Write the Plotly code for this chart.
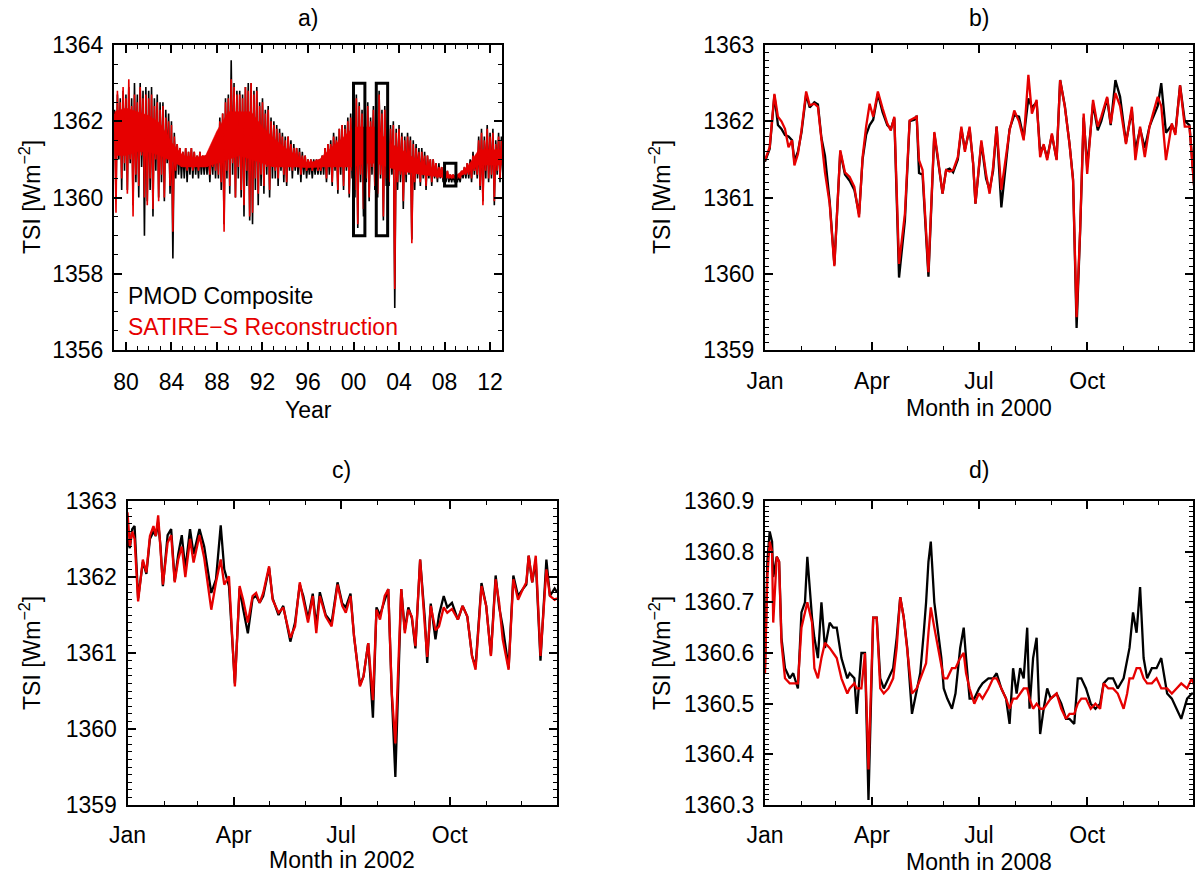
import numpy as np
import plotly.graph_objects as go

# ---- panel a: daily TSI summarised as alternating high/low samples every 1/8 year from 1979.0
a_start = 1979.0
a_step = 0.125
pmod_a = [
    1362.3, 1360.0, 1362.7, 1361.0, 1362.6, 1360.2, 1362.8, 1360.7,  # 1979
    1362.7, 1360.2, 1362.9, 1360.9, 1362.6, 1359.8, 1363.0, 1360.4,  # 1980
    1362.7, 1360.0, 1363.0, 1360.8, 1362.8, 1359.0, 1362.9, 1359.9,  # 1981
    1362.8, 1360.2, 1362.9, 1359.5, 1362.6, 1360.7, 1362.7, 1360.0,  # 1982
    1362.5, 1360.4, 1362.5, 1359.9, 1362.3, 1360.9, 1362.2, 1360.1,  # 1983
    1362.0, 1358.4, 1361.7, 1360.5, 1361.4, 1360.6, 1361.3, 1360.5,  # 1984
    1361.2, 1360.5, 1361.3, 1360.4, 1361.2, 1360.6, 1361.3, 1360.5,  # 1985
    1361.2, 1360.6, 1361.1, 1360.5, 1361.2, 1360.6, 1361.1, 1360.6,  # 1986
    1361.1, 1360.6, 1361.2, 1360.4, 1361.3, 1360.6, 1361.5, 1360.5,  # 1987
    1361.7, 1360.5, 1362.1, 1360.2, 1362.2, 1359.3, 1362.6, 1360.5,  # 1988
    1362.7, 1360.1, 1363.6, 1360.6, 1363.0, 1360.0, 1362.8, 1360.5,  # 1989
    1362.8, 1360.0, 1362.7, 1359.5, 1362.9, 1360.3, 1363.0, 1359.4,  # 1990
    1363.0, 1359.3, 1362.8, 1360.2, 1362.9, 1359.8, 1362.5, 1360.3,  # 1991
    1362.6, 1360.1, 1362.3, 1360.6, 1362.4, 1360.0, 1362.1, 1360.5,  # 1992
    1362.0, 1360.5, 1361.9, 1360.3, 1361.8, 1360.7, 1361.7, 1360.4,  # 1993
    1361.6, 1360.3, 1361.6, 1360.7, 1361.5, 1360.5, 1361.4, 1360.7,  # 1994
    1361.3, 1360.6, 1361.3, 1360.4, 1361.2, 1360.6, 1361.1, 1360.5,  # 1995
    1361.0, 1360.6, 1361.0, 1360.5, 1361.0, 1360.6, 1361.0, 1360.6,  # 1996
    1361.0, 1360.6, 1361.1, 1360.6, 1361.3, 1360.4, 1361.4, 1360.6,  # 1997
    1361.5, 1360.3, 1361.7, 1360.7, 1361.6, 1360.1, 1361.8, 1360.6,  # 1998
    1361.9, 1360.2, 1361.9, 1360.7, 1362.1, 1360.0, 1362.2, 1360.5,  # 1999
    1362.1, 1360.0, 1362.7, 1359.2, 1362.5, 1360.4, 1362.3, 1359.5,  # 2000
    1362.3, 1360.4, 1362.5, 1359.9, 1362.1, 1360.6, 1362.4, 1360.2,  # 2001
    1362.5, 1360.0, 1362.8, 1360.5, 1362.3, 1359.4, 1362.4, 1360.3,  # 2002
    1362.1, 1360.3, 1361.9, 1360.6, 1362.0, 1357.1, 1361.8, 1360.2,  # 2003
    1361.9, 1360.4, 1361.7, 1359.7, 1361.6, 1360.4, 1361.7, 1360.6,  # 2004
    1361.6, 1358.9, 1361.5, 1360.2, 1361.4, 1360.5, 1361.3, 1360.3,  # 2005
    1361.3, 1360.5, 1361.2, 1360.2, 1361.1, 1360.5, 1361.0, 1360.3,  # 2006
    1361.0, 1360.5, 1360.9, 1360.4, 1360.9, 1360.5, 1360.8, 1360.4,  # 2007
    1360.7, 1360.4, 1360.7, 1360.4, 1360.6, 1360.4, 1360.6, 1360.4,  # 2008
    1360.6, 1360.4, 1360.6, 1360.4, 1360.7, 1360.5, 1360.8, 1360.5,  # 2009
    1360.9, 1360.5, 1361.0, 1360.4, 1361.2, 1360.6, 1361.1, 1360.5,  # 2010
    1361.6, 1360.2, 1361.8, 1359.9, 1361.6, 1360.5, 1361.9, 1360.4,  # 2011
    1361.7, 1360.5, 1361.8, 1359.8, 1361.5, 1360.6, 1361.7, 1360.4,  # 2012
    1361.6, 1360.6,                                                  # 2013
]
satire_a = [
    1362.2, 1359.6, 1362.8, 1361.2, 1362.5, 1360.5, 1362.9, 1360.9,  # 1979
    1362.6, 1360.1, 1363.1, 1361.0, 1362.4, 1359.5, 1362.7, 1360.6,  # 1980
    1362.5, 1360.3, 1362.9, 1361.1, 1362.6, 1360.0, 1362.7, 1359.8,  # 1981
    1362.6, 1360.5, 1362.7, 1359.7, 1362.4, 1361.0, 1362.5, 1359.9,  # 1982
    1362.3, 1360.6, 1362.4, 1360.0, 1362.1, 1361.1, 1362.0, 1360.3,  # 1983
    1361.9, 1359.1, 1361.6, 1360.7, 1361.4, 1360.9, 1361.3, 1360.8,  # 1984
    1361.2, 1360.8, 1361.3, 1360.7, 1361.2, 1360.8, 1361.3, 1360.7,  # 1985
    1361.2, 1360.8, 1361.1, 1360.7, 1361.2, 1360.8, 1361.1, 1360.8,  # 1986
    1361.1, 1360.8, 1361.2, 1360.6, 1361.3, 1360.8, 1361.5, 1360.7,  # 1987
    1361.7, 1360.6, 1362.0, 1360.4, 1362.2, 1359.1, 1362.5, 1360.7,  # 1988
    1362.6, 1360.3, 1363.1, 1360.9, 1362.9, 1360.0, 1362.7, 1360.8,  # 1989
    1362.7, 1360.2, 1362.6, 1359.8, 1362.9, 1360.7, 1362.8, 1359.5,  # 1990
    1363.0, 1359.6, 1362.7, 1360.5, 1362.8, 1360.1, 1362.4, 1360.6,  # 1991
    1362.5, 1360.3, 1362.2, 1360.8, 1362.3, 1360.2, 1362.0, 1360.8,  # 1992
    1361.9, 1360.7, 1361.8, 1360.5, 1361.7, 1360.9, 1361.6, 1360.6,  # 1993
    1361.5, 1360.4, 1361.6, 1360.9, 1361.4, 1360.7, 1361.3, 1360.9,  # 1994
    1361.3, 1360.8, 1361.2, 1360.6, 1361.1, 1360.8, 1361.1, 1360.7,  # 1995
    1361.0, 1360.8, 1361.0, 1360.7, 1360.9, 1360.8, 1361.0, 1360.7,  # 1996
    1361.0, 1360.7, 1361.1, 1360.8, 1361.3, 1360.5, 1361.4, 1360.8,  # 1997
    1361.4, 1360.4, 1361.6, 1360.9, 1361.5, 1360.2, 1361.8, 1360.8,  # 1998
    1361.9, 1360.3, 1361.8, 1360.9, 1362.0, 1360.1, 1362.1, 1360.7,  # 1999
    1362.0, 1360.2, 1362.6, 1359.3, 1362.4, 1360.6, 1362.2, 1359.7,  # 2000
    1362.2, 1360.5, 1362.4, 1360.0, 1362.0, 1360.8, 1362.3, 1360.3,  # 2001
    1362.4, 1360.1, 1362.7, 1360.6, 1362.2, 1359.5, 1362.3, 1360.5,  # 2002
    1362.0, 1360.4, 1361.8, 1360.8, 1361.9, 1357.6, 1361.7, 1360.4,  # 2003
    1361.8, 1360.6, 1361.6, 1359.9, 1361.5, 1360.6, 1361.6, 1360.8,  # 2004
    1361.5, 1358.8, 1361.4, 1360.4, 1361.3, 1360.7, 1361.2, 1360.4,  # 2005
    1361.2, 1360.7, 1361.1, 1360.3, 1361.1, 1360.7, 1361.0, 1360.4,  # 2006
    1361.0, 1360.6, 1360.9, 1360.5, 1360.8, 1360.6, 1360.8, 1360.5,  # 2007
    1360.7, 1360.5, 1360.7, 1360.5, 1360.6, 1360.5, 1360.6, 1360.5,  # 2008
    1360.6, 1360.5, 1360.6, 1360.5, 1360.7, 1360.6, 1360.8, 1360.6,  # 2009
    1360.9, 1360.6, 1360.9, 1360.5, 1361.1, 1360.7, 1361.0, 1360.6,  # 2010
    1361.5, 1360.3, 1361.7, 1359.8, 1361.5, 1360.7, 1361.8, 1360.5,  # 2011
    1361.6, 1360.6, 1361.7, 1359.9, 1361.4, 1360.7, 1361.6, 1360.5,  # 2012
    1361.5, 1360.7,                                                  # 2013
]
# solid core of the SATIRE-S daily scatter, one value per year (1979 ... 2013)
core_years = list(range(1979, 2014))
satire_core_hi = [1362.25, 1362.35, 1362.25, 1362.15, 1361.95, 1361.45, 1361.1, 1361.05, 1361.1, 1361.75,
                  1362.25, 1362.25, 1362.25, 1361.85, 1361.55, 1361.3, 1361.1, 1360.9, 1361.0, 1361.3,
                  1361.55, 1361.85, 1361.85, 1361.85, 1361.45, 1361.3, 1361.1, 1360.9, 1360.75, 1360.6,
                  1360.58, 1360.8, 1361.25, 1361.25, 1361.25]
satire_core_lo = [1361.1, 1361.1, 1361.2, 1361.2, 1361.1, 1360.95, 1360.8, 1360.8, 1360.8, 1360.9,
                  1361.0, 1361.1, 1361.0, 1360.9, 1360.8, 1360.8, 1360.8, 1360.78, 1360.8, 1360.8,
                  1360.8, 1360.8, 1360.9, 1360.9, 1360.8, 1360.7, 1360.65, 1360.6, 1360.55, 1360.52,
                  1360.52, 1360.65, 1360.85, 1360.85, 1360.85]
a_years = [1980, 1984, 1988, 1992, 1996, 2000, 2004, 2008, 2012]
a_labels = ["80", "84", "88", "92", "96", "00", "04", "08", "12"]
# zoom boxes: (year from, year to, TSI from, TSI to)
zoom_boxes = [(2000, 2001, 1359.0, 1363.0), (2002, 2003, 1359.0, 1363.0), (2008, 2009, 1360.3, 1360.9)]

# ---- panel b: 2000 (day of year, 0 = 1 Jan)
b_day = [0, 4, 8, 11, 14, 17, 20, 23, 25, 28, 31, 35, 38, 42, 45, 48, 51, 55, 59, 64,
         68, 72, 76, 80, 83, 86, 89, 92, 96, 100, 104, 107, 110, 114, 119, 123, 127, 129, 131, 134,
         139, 144, 147, 151, 154, 157, 160, 164, 167, 170, 174, 177, 179, 184, 188, 191, 194, 197, 201, 205,
         208, 212, 216, 220, 224, 227, 231, 234, 237, 240, 244, 248, 251, 255, 259, 262, 265, 268, 271, 274,
         279, 283, 286, 291, 294, 298, 302, 307, 312, 315, 319, 323, 327, 330, 334, 337, 341, 346, 349, 353,
         357, 361, 365]
b_satire = [1361.49, 1361.66, 1362.36, 1362.06, 1362.0, 1361.9, 1361.66, 1361.75, 1361.42, 1361.57,
            1361.88, 1362.39, 1362.21, 1362.23, 1362.19, 1361.75, 1361.33, 1360.92, 1360.1, 1361.62,
            1361.33, 1361.27, 1361.14, 1360.74, 1361.53, 1361.93, 1362.23, 1362.06, 1362.39, 1362.17,
            1361.97, 1361.88, 1362.06, 1360.13, 1360.79, 1362.01, 1362.04, 1362.06, 1361.49, 1361.36,
            1360.02, 1361.86, 1361.53, 1361.05, 1361.36, 1361.34, 1361.36, 1361.53, 1361.93, 1361.6,
            1361.93, 1361.44, 1360.92, 1361.75, 1361.31, 1361.05, 1361.4, 1361.93, 1361.1, 1361.53,
            1361.88, 1362.14, 1362.0, 1361.75, 1362.61, 1362.1, 1362.28, 1361.53, 1361.7, 1361.49,
            1361.84, 1361.49, 1362.54, 1362.19, 1361.7, 1361.22, 1359.43, 1360.57, 1362.1, 1361.31,
            1362.28, 1361.93, 1362.06, 1362.32, 1361.97, 1362.37, 1362.2, 1361.7, 1362.19, 1361.49,
            1361.93, 1361.53, 1361.93, 1362.1, 1362.32, 1362.2, 1361.49, 1361.97, 1361.82, 1362.47,
            1361.93, 1361.93, 1361.14]
b_pmod = [1361.47, 1361.64, 1362.34, 1361.95, 1361.9, 1361.82, 1361.8, 1361.75, 1361.48, 1361.6,
          1361.85, 1362.35, 1362.18, 1362.25, 1362.22, 1361.78, 1361.55, 1360.95, 1360.12, 1361.6,
          1361.3, 1361.22, 1361.1, 1360.78, 1361.5, 1361.82, 1361.95, 1362.02, 1362.36, 1362.12,
          1361.95, 1361.9, 1362.04, 1359.95, 1360.7, 1362.0, 1362.02, 1362.07, 1361.32, 1361.3,
          1359.96, 1361.84, 1361.5, 1361.05, 1361.36, 1361.38, 1361.33, 1361.5, 1361.9, 1361.63,
          1361.9, 1361.45, 1360.92, 1361.72, 1361.25, 1361.1, 1361.35, 1361.93, 1360.87, 1361.5,
          1361.9, 1362.08, 1362.06, 1361.78, 1362.3, 1362.18, 1362.25, 1361.6, 1361.68, 1361.52,
          1361.82, 1361.5, 1362.54, 1362.2, 1361.7, 1361.24, 1359.29, 1360.55, 1362.05, 1361.4,
          1362.23, 1361.88, 1362.0, 1362.3, 1361.95, 1362.54, 1362.32, 1361.72, 1362.14, 1361.62,
          1361.9, 1361.65, 1361.93, 1362.05, 1362.2, 1362.5, 1361.85, 1361.95, 1361.85, 1362.47,
          1362.0, 1361.95, 1361.14]

# ---- panel c: 2002
c_day = [0, 2, 4, 6, 9, 13, 16, 19, 22, 24, 26, 28, 30, 34, 37, 40, 43, 46, 49, 53,
         56, 61, 65, 71, 75, 79, 82, 86, 91, 95, 98, 102, 106, 109, 112, 115, 120, 123, 128, 132,
         138, 142, 146, 149, 153, 157, 160, 163, 168, 173, 178, 182, 185, 189, 192, 197, 200, 204, 208, 211,
         214, 218, 221, 224, 227, 232, 235, 238, 241, 244, 248, 252, 254, 257, 261, 264, 268, 271, 275, 280,
         284, 288, 292, 295, 300, 304, 308, 312, 315, 318, 323, 327, 331, 335, 338, 340, 343, 346, 350, 355,
         358, 362, 364]
c_satire = [1362.85, 1362.41, 1362.6, 1362.5, 1361.68, 1362.23, 1362.06, 1362.54, 1362.67, 1362.54,
            1362.81, 1362.37, 1361.9, 1362.45, 1362.55, 1361.93, 1362.23, 1362.4, 1362.0, 1362.5,
            1362.19, 1362.55, 1362.25, 1361.57, 1361.93, 1362.23, 1361.9, 1362.01, 1360.56, 1361.88,
            1361.7, 1361.4, 1361.75, 1361.79, 1361.66, 1361.79, 1362.14, 1361.7, 1361.53, 1361.6,
            1361.2, 1361.35, 1361.93, 1361.7, 1361.4, 1361.75, 1361.26, 1361.75, 1361.48, 1361.35,
            1361.9, 1361.62, 1361.53, 1361.75, 1361.22, 1360.56, 1360.69, 1361.13, 1360.38, 1361.57,
            1361.44, 1361.75, 1361.84, 1360.47, 1359.81, 1361.84, 1361.26, 1361.57, 1361.48, 1361.09,
            1362.23, 1361.35, 1360.95, 1361.62, 1361.3, 1361.35, 1361.6, 1361.53, 1361.58, 1361.44,
            1361.62, 1361.48, 1360.96, 1360.78, 1361.88, 1361.62, 1360.96, 1361.97, 1361.66, 1361.18,
            1360.78, 1361.97, 1361.7, 1361.84, 1361.93, 1362.28, 1361.93, 1362.28, 1360.96, 1362.1,
            1361.75, 1361.7, 1361.72]
c_pmod = [1362.5, 1362.38, 1362.63, 1362.67, 1361.72, 1362.2, 1362.04, 1362.5, 1362.6, 1362.54,
          1362.72, 1362.4, 1361.88, 1362.55, 1362.63, 1361.95, 1362.3, 1362.55, 1362.1, 1362.63,
          1362.3, 1362.63, 1362.4, 1361.79, 1361.97, 1362.68, 1362.1, 1361.88, 1360.6, 1361.85,
          1361.58, 1361.26, 1361.72, 1361.75, 1361.66, 1361.75, 1362.12, 1361.72, 1361.5, 1361.62,
          1361.15, 1361.4, 1361.9, 1361.75, 1361.45, 1361.78, 1361.35, 1361.8, 1361.5, 1361.4,
          1361.93, 1361.65, 1361.6, 1361.78, 1361.22, 1360.58, 1360.69, 1361.13, 1360.15, 1361.6,
          1361.5, 1361.7, 1361.84, 1360.45, 1359.37, 1361.84, 1361.3, 1361.6, 1361.46, 1361.06,
          1362.23, 1361.45, 1360.87, 1361.65, 1361.18, 1361.5, 1361.75, 1361.6, 1361.66, 1361.44,
          1361.62, 1361.48, 1360.96, 1360.82, 1361.92, 1361.62, 1360.98, 1362.02, 1361.6, 1361.35,
          1360.8, 1362.02, 1361.75, 1361.84, 1361.9, 1362.28, 1361.93, 1362.22, 1360.9, 1362.23,
          1361.75, 1361.85, 1361.8]

# ---- panel d: 2008
d_day = [0, 2, 4, 6, 7, 10, 12, 14, 17, 21, 24, 28, 31, 34, 36, 40, 42, 45, 48, 51,
         55, 58, 61, 65, 70, 72, 76, 78, 82, 85, 88, 92, 95, 98, 101, 105, 109, 112, 115, 118,
         121, 125, 129, 132, 135, 137, 139, 141, 144, 147, 150, 152, 155, 159, 162, 166, 169, 171, 174, 178,
         182, 185, 190, 194, 197, 201, 205, 208, 211, 214, 217, 220, 223, 225, 228, 231, 234, 237, 240, 243,
         248, 252, 256, 259, 263, 266, 269, 273, 277, 281, 285, 288, 292, 296, 300, 305, 308, 310, 313, 316,
         319, 322, 325, 329, 333, 337, 342, 346, 350, 354, 359, 363, 366]
d_satire = [1360.56, 1360.75, 1360.82, 1360.8, 1360.66, 1360.79, 1360.78, 1360.62, 1360.55, 1360.54,
            1360.54, 1360.54, 1360.65, 1360.68, 1360.7, 1360.66, 1360.57, 1360.55, 1360.59, 1360.62,
            1360.61, 1360.6, 1360.59, 1360.55, 1360.52, 1360.53, 1360.54, 1360.53, 1360.53, 1360.6,
            1360.37, 1360.67, 1360.67, 1360.53, 1360.52, 1360.53, 1360.55, 1360.61, 1360.71, 1360.67,
            1360.61, 1360.52, 1360.53, 1360.55, 1360.57, 1360.58, 1360.64, 1360.69, 1360.65, 1360.61,
            1360.57, 1360.55, 1360.55, 1360.57, 1360.57, 1360.59, 1360.6, 1360.56, 1360.53, 1360.5,
            1360.52, 1360.51, 1360.53, 1360.55, 1360.55, 1360.53, 1360.51, 1360.49, 1360.51, 1360.51,
            1360.52, 1360.53, 1360.53, 1360.51, 1360.49, 1360.5, 1360.49, 1360.49, 1360.5, 1360.51,
            1360.52, 1360.49, 1360.47, 1360.48, 1360.48, 1360.5, 1360.51, 1360.51, 1360.49, 1360.5,
            1360.49, 1360.54, 1360.53, 1360.53, 1360.52, 1360.49, 1360.52, 1360.55, 1360.55, 1360.57,
            1360.57, 1360.55, 1360.54, 1360.54, 1360.55, 1360.53, 1360.53, 1360.52, 1360.53, 1360.54,
            1360.53, 1360.55, 1360.53]
d_pmod = [1360.57, 1360.78, 1360.84, 1360.82, 1360.75, 1360.79, 1360.78, 1360.63, 1360.57, 1360.55,
          1360.56, 1360.53, 1360.68, 1360.7, 1360.79, 1360.67, 1360.63, 1360.59, 1360.7, 1360.61,
          1360.66, 1360.65, 1360.65, 1360.59, 1360.55, 1360.56, 1360.55, 1360.48, 1360.6, 1360.6,
          1360.31, 1360.67, 1360.67, 1360.55, 1360.53, 1360.55, 1360.57, 1360.63, 1360.71, 1360.67,
          1360.61, 1360.48, 1360.53, 1360.56, 1360.64, 1360.7, 1360.78, 1360.82, 1360.7, 1360.64,
          1360.59, 1360.53, 1360.51, 1360.49, 1360.52, 1360.61, 1360.65, 1360.59, 1360.51, 1360.51,
          1360.53, 1360.54, 1360.55, 1360.55, 1360.56, 1360.53, 1360.51, 1360.46, 1360.57, 1360.52,
          1360.57, 1360.55, 1360.65, 1360.49, 1360.59, 1360.63, 1360.44, 1360.49, 1360.53, 1360.51,
          1360.52, 1360.5, 1360.47, 1360.47, 1360.46, 1360.55, 1360.55, 1360.53, 1360.5, 1360.49,
          1360.5, 1360.54, 1360.55, 1360.55, 1360.53, 1360.55, 1360.59, 1360.61, 1360.68, 1360.64,
          1360.73, 1360.59, 1360.55, 1360.57, 1360.57, 1360.59, 1360.52, 1360.51, 1360.49, 1360.47,
          1360.51, 1360.52, 1360.52]

month_starts_leap = [0, 31, 60, 91, 121, 152, 182, 213, 244, 274, 305, 335]
month_starts_common = [0, 31, 59, 90, 120, 151, 181, 212, 243, 273, 304, 334]
month_labels = ["Jan", "Apr", "Jul", "Oct"]

W, H = 1200, 881
FONT = "Liberation Sans"
FS = 23
RED = "#e60000"


def px_x(v):
    return v / W


def px_y(v):
    return 1 - v / H


def xaxis_style(domain, rng, tickvals, ticktext, minor_vals, anchor, standoff):
    return dict(domain=domain, range=rng, anchor=anchor, automargin=False,
                tickmode="array", tickvals=tickvals, ticktext=ticktext,
                minor=dict(tickmode="array", tickvals=minor_vals, ticks="inside",
                           ticklen=4, tickcolor="black", tickwidth=1.2),
                ticks="inside", ticklen=8, tickwidth=1.5, tickcolor="black",
                showline=True, linecolor="black", linewidth=2, mirror="allticks",
                showgrid=False, zeroline=False, ticklabelstandoff=standoff,
                tickfont=dict(family=FONT, size=FS, color="black"))


def yaxis_style(domain, rng, dtick, minor_dtick, anchor, fmt):
    return dict(domain=domain, range=rng, anchor=anchor, automargin=False,
                tick0=rng[0], dtick=dtick, tickformat=fmt,
                minor=dict(tick0=rng[0], dtick=minor_dtick, ticks="inside",
                           ticklen=4, tickcolor="black", tickwidth=1.2),
                ticks="inside", ticklen=8, tickwidth=1.5, tickcolor="black",
                showline=True, linecolor="black", linewidth=2, mirror="allticks",
                showgrid=False, zeroline=False, ticklabelstandoff=4,
                tickfont=dict(family=FONT, size=FS, color="black"))


fig = go.Figure()

# panel a: PMOD daily extremes, then SATIRE-S solid core and its daily extremes on top
t_a = a_start + a_step * np.arange(len(pmod_a))
fig.add_trace(go.Scatter(x=t_a, y=pmod_a, mode="lines", line=dict(color="black", width=1.6),
                         xaxis="x", yaxis="y"))
fig.add_trace(go.Scatter(x=core_years + core_years[::-1], y=satire_core_hi + satire_core_lo[::-1],
                         mode="lines", fill="toself", fillcolor=RED, line=dict(color=RED, width=0.5),
                         xaxis="x", yaxis="y", hoverinfo="skip"))
fig.add_trace(go.Scatter(x=t_a, y=satire_a, mode="lines", line=dict(color=RED, width=1.6),
                         xaxis="x", yaxis="y"))

for day, pm, sa, ax in [(b_day, b_pmod, b_satire, "2"), (c_day, c_pmod, c_satire, "3"),
                        (d_day, d_pmod, d_satire, "4")]:
    fig.add_trace(go.Scatter(x=day, y=pm, mode="lines", line=dict(color="black", width=2.3),
                             xaxis="x" + ax, yaxis="y" + ax))
    fig.add_trace(go.Scatter(x=day, y=sa, mode="lines", line=dict(color=RED, width=2.3),
                             xaxis="x" + ax, yaxis="y" + ax))

for x0, x1, y0, y1 in zoom_boxes:
    fig.add_shape(type="rect", xref="x", yref="y", x0=x0, x1=x1, y0=y0, y1=y1,
                  line=dict(color="black", width=3))

top_dom = [px_y(350), px_y(45)]
bot_dom = [px_y(805), px_y(501)]
left_a = [px_x(114), px_x(502)]
right_dom = [px_x(765), px_x(1193)]
left_c = [px_x(127.5), px_x(557)]

leap_ticks = [month_starts_leap[i] for i in (0, 3, 6, 9)]
common_ticks = [month_starts_common[i] for i in (0, 3, 6, 9)]

fig.update_layout(
    width=W, height=H, margin=dict(l=0, r=0, t=0, b=0, pad=0, autoexpand=False),
    paper_bgcolor="white", plot_bgcolor="white", showlegend=False,
    font=dict(family=FONT, size=FS, color="black"),
    xaxis=xaxis_style(left_a, [1978.95, 2013.05], a_years, a_labels,
                      list(range(1979, 2014)), "y", 10),
    yaxis=yaxis_style(top_dom, [1356, 1364], 2, 0.5, "x", "d"),
    xaxis2=xaxis_style(right_dom, [0, 364], leap_ticks, month_labels, month_starts_leap, "y2", 9),
    yaxis2=yaxis_style(top_dom, [1359, 1363], 1, 0.1, "x2", "d"),
    xaxis3=xaxis_style(left_c, [0, 364], common_ticks, month_labels, month_starts_common, "y3", 8),
    yaxis3=yaxis_style(bot_dom, [1359, 1363], 1, 0.1, "x3", "d"),
    xaxis4=xaxis_style(right_dom, [0, 364], leap_ticks, month_labels, month_starts_leap, "y4", 8),
    yaxis4=yaxis_style(bot_dom, [1360.3, 1360.9], 0.1, 0.01, "x4", ".1f"),
)

notes = [
    ("a)", 308, 18, 0), ("b)", 979, 18, 0), ("c)", 342, 470, 0), ("d)", 979, 470, 0),
    ("Year", 308, 410, 0), ("Month in 2000", 979, 408, 0),
    ("Month in 2002", 342, 860, 0), ("Month in 2008", 979, 862, 0),
    ("TSI [Wm<sup>−2</sup>]", 30, 197, -90), ("TSI [Wm<sup>−2</sup>]", 660, 197, -90),
    ("TSI [Wm<sup>−2</sup>]", 30, 653, -90), ("TSI [Wm<sup>−2</sup>]", 660, 653, -90),
]
for text, x, y, ang in notes:
    fig.add_annotation(text=text, x=px_x(x), y=px_y(y), xref="paper", yref="paper",
                       showarrow=False, textangle=ang, xanchor="center", yanchor="middle",
                       font=dict(family=FONT, size=FS, color="black"))

fig.add_annotation(text="PMOD Composite", x=px_x(126), y=px_y(296), xref="paper", yref="paper",
                   showarrow=False, xanchor="left", yanchor="middle",
                   font=dict(family=FONT, size=FS, color="black"))
fig.add_annotation(text="SATIRE−S Reconstruction", x=px_x(126), y=px_y(327), xref="paper",
                   yref="paper", showarrow=False, xanchor="left", yanchor="middle",
                   font=dict(family=FONT, size=FS, color=RED))

fig.write_html("out.html", config={"displayModeBar": False},
               post_script="document.body.style.margin = '0px';")
